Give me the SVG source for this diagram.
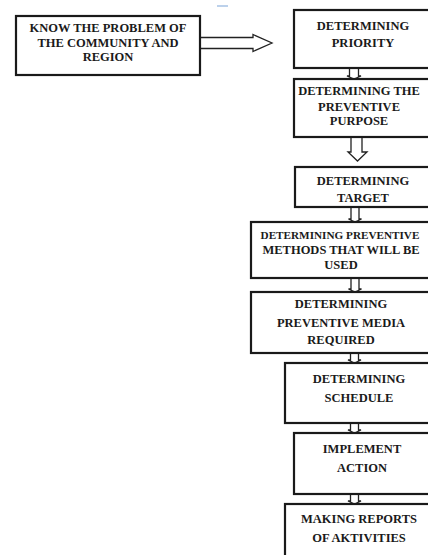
<svg xmlns="http://www.w3.org/2000/svg" width="428" height="555" viewBox="0 0 428 555">
<style>
.box{fill:#fff;stroke:#1a1a1a;stroke-width:2.2}
.t{font-family:"Liberation Serif","Times New Roman",serif;font-weight:bold;font-size:12.5px;fill:#1a1a1a;text-anchor:middle}
.ar{fill:#fff;stroke:#222;stroke-width:1.3;stroke-linejoin:miter}
</style>
<rect width="428" height="555" fill="#fff"/>
<line x1="217" y1="6" x2="228" y2="6" stroke="#8fb3dd" stroke-width="1.2"/>
<g id="connectors">
<path class="ar" d="M200,37.5 H253 V34.5 L272,43 L253,51.5 V48.5 H200 Z"/>
<path class="ar" d="M349.5,68 V76 H347 L354,79 L361,76 H358.5 V68"/>
<path class="ar" d="M351,137 V152 H348 L357.5,161 L367,152 H362 V137"/>
<path class="ar" d="M351,207 V219 H348.5 L355,222 L361.5,219 H359 V207"/>
<path class="ar" d="M351,278 V289 H348.5 L355,292 L361.5,289 H359 V278"/>
<path class="ar" d="M350.5,353 V360 H348 L354.5,363 L361,360 H358.5 V353"/>
<path class="ar" d="M350.5,423 V430 H348 L354.5,433 L361,430 H358.5 V423"/>
<path class="ar" d="M350.5,494 V501 H348 L354.5,504 L361,501 H358.5 V494"/>
</g>
<g id="n0"><rect class="box" x="16" y="16" width="184" height="59"/>
<text class="t" x="108" y="32">KNOW THE PROBLEM OF</text>
<text class="t" x="108" y="47">THE COMMUNITY AND</text>
<text class="t" x="108" y="61">REGION</text></g>
<g id="n1"><rect class="box" x="294" y="10" width="150" height="58"/>
<text class="t" x="363" y="29.5">DETERMINING</text>
<text class="t" x="363" y="47">PRIORITY</text></g>
<g id="n2"><rect class="box" x="294" y="79" width="150" height="58"/>
<text class="t" x="359" y="95">DETERMINING THE</text>
<text class="t" x="359" y="111">PREVENTIVE</text>
<text class="t" x="359" y="125">PURPOSE</text></g>
<g id="n3"><rect class="box" x="295" y="167" width="150" height="40"/>
<text class="t" x="363" y="185">DETERMINING</text>
<text class="t" x="363" y="202">TARGET</text></g>
<g id="n4"><rect class="box" x="251" y="222" width="195" height="56"/>
<text class="t" x="340" y="239" style="font-size:11.2px">DETERMINING PREVENTIVE</text>
<text class="t" x="341" y="254">METHODS THAT WILL BE</text>
<text class="t" x="341" y="269">USED</text></g>
<g id="n5"><rect class="box" x="251" y="292" width="195" height="61"/>
<text class="t" x="341" y="308">DETERMINING</text>
<text class="t" x="341" y="327">PREVENTIVE  MEDIA</text>
<text class="t" x="341" y="344">REQUIRED</text></g>
<g id="n6"><rect class="box" x="285" y="363" width="160" height="60"/>
<text class="t" x="359" y="383">DETERMINING</text>
<text class="t" x="359" y="402">SCHEDULE</text></g>
<g id="n7"><rect class="box" x="294" y="433" width="150" height="61"/>
<text class="t" x="362" y="453">IMPLEMENT</text>
<text class="t" x="362" y="472">ACTION</text></g>
<g id="n8"><rect class="box" x="285" y="504" width="160" height="60"/>
<text class="t" x="359" y="523">MAKING REPORTS</text>
<text class="t" x="359" y="542">OF AKTIVITIES</text></g>
</svg>
